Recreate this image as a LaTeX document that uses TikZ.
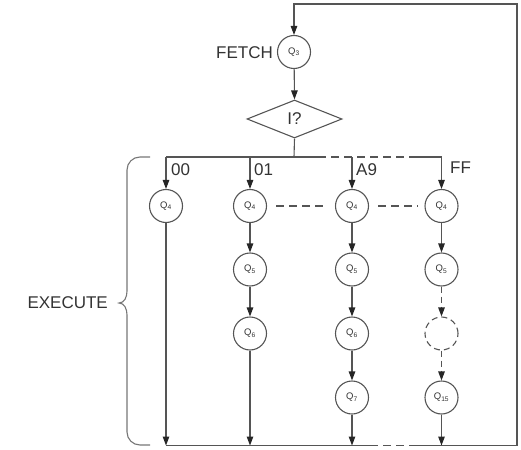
\documentclass[tikz,border=0pt]{standalone}
\usepackage{fontspec}
\setmainfont{Liberation Sans}
\usetikzlibrary{arrows.meta,shapes.geometric}
\definecolor{ln}{HTML}{555555}
\definecolor{tx}{HTML}{333333}
\tikzset{
  ln/.style={draw=ln, line width=1.1pt},
  arr/.style={ln, -{Triangle[length=9pt,width=6.5pt,color=black!85]}},
  st/.style={circle, ln, minimum size=33pt, inner sep=0pt, text=tx,
    font=\fontsize{9.5}{10}\selectfont},
  dst/.style={circle, draw=ln, line width=1.1pt, dash pattern=on 6pt off 4pt,
    minimum size=33pt, inner sep=0pt},
  lbl/.style={text=tx, font=\fontsize{17}{20}\selectfont, inner sep=0pt},
  dsh/.style={dash pattern=on 8pt off 5pt}
}
\newcommand{\Qs}[1]{Q\textsubscript{#1}}
\begin{document}
\begin{tikzpicture}[x=1pt,y=-1pt]
\useasboundingbox (0,0) rectangle (521,449);

% fetch and decode
\node[st] (q3) at (294,52) {\Qs{3}};
\node[lbl, anchor=east] (fetch) at (273,52.5) {FETCH};
\node[diamond, ln, aspect=2.5, minimum width=95pt, minimum height=38pt,
      inner sep=0pt, text=tx, font=\fontsize{17}{20}\selectfont] (dia) at (294.5,119) {I?};

% branch coordinates
\coordinate (j0) at (294,157);
\coordinate (t1) at (166,157);
\coordinate (t2) at (250,157);
\coordinate (t3) at (352,157);
\coordinate (t4) at (441.5,157);
\coordinate (e1) at (318,157);
\coordinate (e2) at (410,157);

% bottom coordinates
\coordinate (b1) at (166,445.5);
\coordinate (b2) at (250,445.5);
\coordinate (b3) at (352,445.5);
\coordinate (b4) at (441.5,445.5);
\coordinate (d1) at (370,445.5);
\coordinate (d2) at (410,445.5);
\coordinate (br) at (517,445.5);
\coordinate (tr) at (517,4);

% states
\node[st] (c1a) at (166,206) {\Qs{4}};
\node[st] (c2a) at (250,206) {\Qs{4}};
\node[st] (c2b) at (250,269.5) {\Qs{5}};
\node[st] (c2c) at (250,333.5) {\Qs{6}};
\node[st] (c3a) at (352,206) {\Qs{4}};
\node[st] (c3b) at (352,269.5) {\Qs{5}};
\node[st] (c3c) at (352,333.5) {\Qs{6}};
\node[st] (c3d) at (352,397.5) {\Qs{7}};
\node[st] (c4a) at (441.5,206) {\Qs{4}};
\node[st] (c4b) at (441.5,269.5) {\Qs{5}};
\node[dst] (c4c) at (441.5,333.5) {};
\node[st] (c4d) at (441.5,397.5) {\Qs{15}};

% labels
\node[lbl, anchor=west] (l00) at (171,170) {00};
\node[lbl, anchor=west] (l01) at (254,170) {01};
\node[lbl, anchor=west] (lA9) at (356,170) {A9};
\node[lbl, anchor=west] (lFF) at (450,168) {FF};
\node[lbl, anchor=east] (exec) at (108,302.5) {EXECUTE};

% fetch loop
\draw[arr] (q3) -- (dia.north);
\draw[ln] (dia.south) -- (j0);
\draw[ln] (t1) -- (e1);
\draw[ln, dsh] (e1) -- (e2);
\draw[ln] (e2) -- (t4);
\draw[arr] (t1) -- (c1a);
\draw[arr] (t2) -- (c2a);
\draw[arr] (t3) -- (c3a);
\draw[arr] (t4) -- (c4a);

% columns
\draw[arr] (c1a) -- (b1);
\draw[arr] (c2a) -- (c2b);
\draw[arr] (c2b) -- (c2c);
\draw[arr] (c2c) -- (b2);
\draw[arr] (c3a) -- (c3b);
\draw[arr] (c3b) -- (c3c);
\draw[arr] (c3c) -- (c3d);
\draw[arr] (c3d) -- (b3);
\draw[arr] (c4a) -- (c4b);
\draw[arr, dash pattern=on 6pt off 4pt] (c4b) -- (c4c);
\draw[arr, dash pattern=on 6pt off 4pt] (c4c) -- (c4d);
\draw[arr] (c4d) -- (b4);

% dashed links between Q4
\draw[ln, dsh] ([xshift=9pt]c2a.east) -- ([xshift=-7pt]c3a.west);
\draw[ln, dsh] ([xshift=9pt]c3a.east) -- ([xshift=-7pt]c4a.west);

% bottom return
\draw[ln] (b1) -- (d1);
\draw[ln, dsh] (d1) -- (d2);
\draw[arr] (d2) -- (br) -- (tr) -| (q3.north);

% brace
\draw[draw=ln!80, line width=1.1pt] (150,157) -- (140,157)
  to[out=180,in=90] (127,170) -- (127,291)
  to[out=-90,in=0] (119,303)
  to[out=0,in=90] (127,315) -- (127,432)
  to[out=-90,in=180] (140,445) -- (150,445);
\end{tikzpicture}
\end{document}
